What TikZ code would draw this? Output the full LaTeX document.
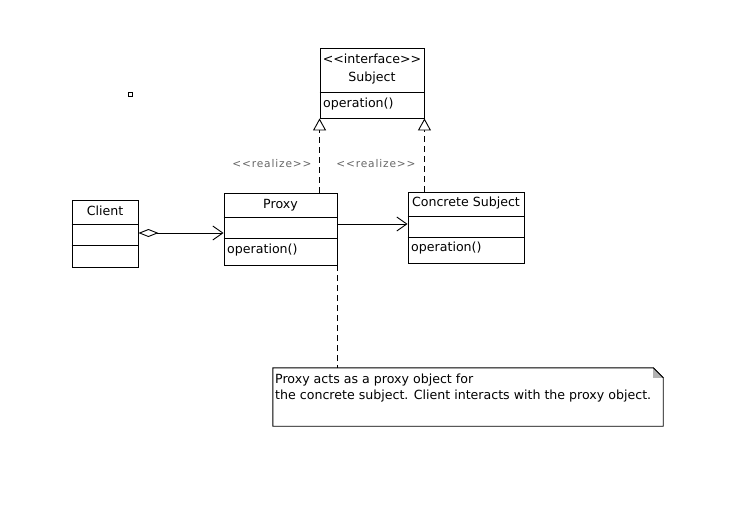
\documentclass[tikz,border=0pt]{standalone}
\usepackage{fontspec}
\setmainfont{DejaVu Sans}
\newfontfamily\stereofont[LetterSpace=8]{DejaVu Sans}
\usetikzlibrary{arrows.meta,shadows}

\begin{document}
\begin{tikzpicture}[x=1pt,y=-1pt,
  classbox/.style={draw, fill=white, line width=0.9pt, inner sep=0pt,
    drop shadow={shadow xshift=1.2pt, shadow yshift=-1.2pt, opacity=0.3, fill=black}},
  txt/.style={font=\fontsize{12.6}{14}\selectfont, inner sep=0pt},
  stereo/.style={font=\stereofont\fontsize{10.6}{12}\selectfont, text=black!60, inner sep=0pt},
  divider/.style={line width=0.9pt},
  realize/.style={line width=0.9pt, dash pattern=on 6pt off 4pt,
    -{Triangle[open, length=12pt, width=13pt, fill=white]}},
  assoc/.style={line width=0.9pt, -{Straight Barb[length=10pt, width=14pt]}},
  anchorline/.style={line width=0.9pt, dash pattern=on 6pt off 4pt},
]
\useasboundingbox (0,0) rectangle (734,523);

% class boxes
\node[classbox, minimum width=104pt, minimum height=70pt] (subject) at (372,83) {};
\node[classbox, minimum width=113pt, minimum height=72pt] (proxy) at (280.5,229) {};
\node[classbox, minimum width=116pt, minimum height=71pt] (concrete) at (466,227.5) {};
\node[classbox, minimum width=66pt, minimum height=67pt] (client) at (105,233.5) {};

% compartments
\draw[divider] (subject.west |- 0,92) -- (subject.east |- 0,92);
\draw[divider] (proxy.west |- 0,217) -- (proxy.east |- 0,217);
\draw[divider] (proxy.west |- 0,238) -- (proxy.east |- 0,238);
\draw[divider] (concrete.west |- 0,216) -- (concrete.east |- 0,216);
\draw[divider] (concrete.west |- 0,237) -- (concrete.east |- 0,237);
\draw[divider] (client.west |- 0,224) -- (client.east |- 0,224);
\draw[divider] (client.west |- 0,245) -- (client.east |- 0,245);

% class texts
\node[txt] (subjstereo) at (372,59) {{<}{<}interface{>}{>}};
\node[txt] (subjname) at (372,78) {Subject};
\node[txt, anchor=west] (subjop) at (323,104) {operation()};
\node[txt] (proxyname) at (280.5,205) {Proxy};
\node[txt, anchor=west] (proxyop) at (227,250) {operation()};
\node[txt] (concname) at (466,203) {Concrete Subject};
\node[txt, anchor=west] (concop) at (411,248) {operation()};
\node[txt] (clientname) at (105,211) {Client};

% realizations
\draw[realize] (proxy.north -| subject.south west) -- (subject.south west);
\draw[realize] (concrete.north -| subject.south east) -- (subject.south east);
\node[stereo] (real1) at (272,164) {{<}{<}realize{>}{>}};
\node[stereo] (real2) at (376,164) {{<}{<}realize{>}{>}};

% associations
\draw[assoc, {Diamond[open, length=20pt, width=8pt]}-{Straight Barb[length=10pt, width=14pt]}]
  (client.east |- 0,233) -- (proxy.west |- 0,233);
\draw[assoc] (proxy.east |- 0,224) -- (concrete.west |- 0,224);

% note
\node[txt, inner sep=0pt, minimum width=390pt, minimum height=58pt] (note) at (468,397) {};
\draw[line width=0.9pt, fill=white]
  (note.north west) -- ([xshift=-10pt]note.north east) -- ([yshift=-10pt]note.north east)
  -- (note.south east) -- (note.south west) -- cycle;
\fill[black!30] ([xshift=-10pt]note.north east) -- ([yshift=-10pt]note.north east)
  -- ([xshift=-10pt,yshift=-10pt]note.north east) -- cycle;
\draw[line width=0.9pt] ([xshift=-10pt]note.north east) -- ([yshift=-10pt]note.north east);
\node[txt, anchor=north west, align=left, font=\fontsize{12.6}{16}\selectfont] (notetext)
  at (275,374) {Proxy acts as a proxy object for\\the concrete subject. Client interacts with the proxy object.};
\draw[anchorline] (proxy.south east) -- (proxy.south east |- note.north);

% small marker
\node[draw, line width=0.8pt, minimum size=4pt, inner sep=0pt] (marker) at (130,94) {};
\end{tikzpicture}
\end{document}
